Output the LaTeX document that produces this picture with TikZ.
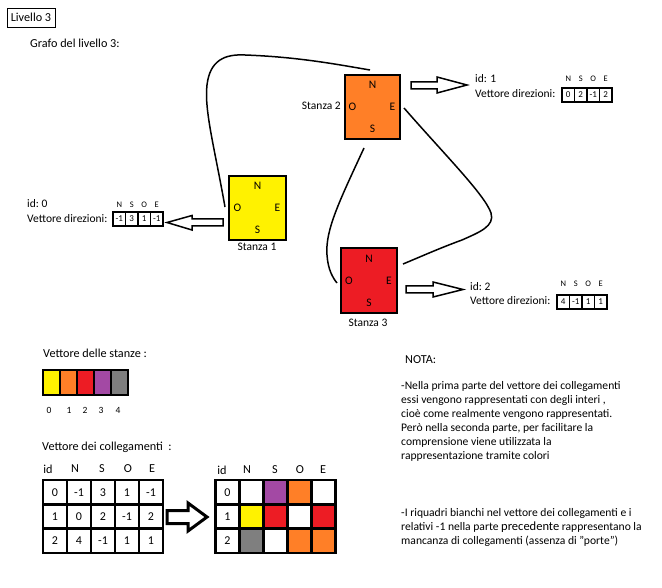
\documentclass[tikz,border=0pt]{standalone}
\usepackage{fontspec}
\setmainfont{Carlito}
\definecolor{cyel}{HTML}{FFF200}
\definecolor{cora}{HTML}{FF7F27}
\definecolor{cred}{HTML}{ED1C24}
\definecolor{cpur}{HTML}{A349A4}
\definecolor{cgry}{HTML}{7F7F7F}
\begin{document}
\begin{tikzpicture}[x=1pt,y=-1pt,
  txt/.style={inner sep=0, font=\fontsize{12.2}{14}\selectfont},
  ltxt/.style={txt, anchor=west},
  vtxt/.style={ltxt, font=\fontsize{11.5}{14}\selectfont},
  room/.style={draw, line width=2pt, minimum width=55, minimum height=64, inner sep=0},
  dirl/.style={inner sep=0, font=\fontsize{11.5}{14}\selectfont},
  dcell/.style={draw, line width=1.3pt, minimum width=12.5, minimum height=14, inner sep=0, font=\fontsize{9}{10}\selectfont},
  hlab/.style={inner sep=0, font=\fontsize{8.5}{9}\selectfont},
  barrow/.style={draw, fill=white, line width=1.5pt, line join=miter},
  tcell/.style={draw, line width=2.5pt, minimum width=24, minimum height=24.3, inner sep=0, font=\fontsize{12}{14}\selectfont},
  scell/.style={draw, line width=1.8pt, minimum width=17, minimum height=25, inner sep=0},
  link/.style={line width=1.5pt}
]
\useasboundingbox (0,0) rectangle (662,588);
\fill[white] (0,0) rectangle (662,588);

% title
\node[txt, draw, line width=0.8pt, minimum width=48, minimum height=19] (title) at (31,17.5) {Livello 3};
\node[ltxt] (grafo) at (30,43) {Grafo del livello 3:};

% rooms
\node[room, fill=cora] (s2) at (372.5,107) {};
\node[room, fill=cyel, minimum width=57] (s1) at (257.5,208) {};
\node[room, fill=cred, minimum width=56, minimum height=65] (s3) at (369,280.5) {};
\foreach \s in {s1,s2,s3} {
  \node[dirl] (\s N) at ([yshift=22pt]\s.center) {N};
  \node[dirl] (\s S) at ([yshift=-22pt]\s.center) {S};
  \node[dirl] (\s O) at ([xshift=-20pt]\s.center) {O};
  \node[dirl] (\s E) at ([xshift=20pt]\s.center) {E};
}
\node[vtxt, anchor=east] (l2) at (341,106) {Stanza 2};
\node[vtxt, anchor=center] (l1) at (257,247) {Stanza 1};
\node[vtxt, anchor=center] (l3) at (368,323) {Stanza 3};

% links
\draw[link] ([xshift=-3pt,yshift=1pt]s1.west) .. controls (215,150) and (204,110) .. (207,85)
   .. controls (210,60) and (225,54) .. (245,55) .. controls (300,57) and (340,65) .. ([xshift=-2.5pt,yshift=4pt]s2.north);
\draw[link] ([xshift=-8.5pt,yshift=-8pt]s2.south) .. controls (340,200) and (325,230) .. (327,255)
   .. controls (328,270) and (333,278) .. ([xshift=-3pt,yshift=-2.5pt]s3.west);
\draw[link] ([xshift=3pt,yshift=-1pt]s2.east) .. controls (445,155) and (485,195) .. (491,213)
   .. controls (495,226) and (480,232) .. (462,240) .. controls (440,248) and (420,257) .. ([xshift=5pt,yshift=-17pt]s3.north east);

% block arrows
\draw[barrow] (411,82) -- (437,82) -- (437,77) -- (467,85) -- (437,93) -- (437,89) -- (411,89) -- cycle;
\draw[barrow] (223,219) -- (192,219) -- (192,215.5) -- (167,222.5) -- (192,230) -- (192,226) -- (223,226) -- cycle;
\draw[barrow] (406,286) -- (433,286) -- (433,282) -- (463,289.5) -- (433,297) -- (433,293) -- (406,293) -- cycle;

% id 0
\node[vtxt] (id0) at (27,204) {id:\ 0};
\node[vtxt] (vd0) at (27,219) {Vettore direzioni:};
\foreach \v [count=\i from 0] in {-1,3,1,-1}
  \node[dcell] (a\i) at ({119.25+12.5*\i},219) {\v};
\foreach \l [count=\i from 0] in {N,S,O,E}
  \node[hlab] (ah\i) at ({119.25+12.5*\i},205) {\l};

% id 1
\node[vtxt] (id1) at (475,79) {id: 1};
\node[vtxt] (vd1) at (475,94) {Vettore direzioni:};
\foreach \v [count=\i from 0] in {0,2,-1,2}
  \node[dcell] (b\i) at ({568.25+12.5*\i},95) {\v};
\foreach \l [count=\i from 0] in {N,S,O,E}
  \node[hlab] (bh\i) at ({568.25+12.5*\i},79) {\l};

% id 2
\node[vtxt] (id2) at (470,287) {id:\ 2};
\node[vtxt] (vd2) at (470,301) {Vettore direzioni:};
\foreach \v [count=\i from 0] in {4,-1,1,1}
  \node[dcell] (c\i) at ({563.25+12.5*\i},302) {\v};
\foreach \l [count=\i from 0] in {N,S,O,E}
  \node[hlab] (ch\i) at ({563.25+12.5*\i},284) {\l};

% vettore delle stanze
\node[ltxt] (vs) at (43,353) {Vettore delle stanze :};
\foreach \c [count=\i from 0] in {cyel,cora,cred,cpur,cgry}
  \node[scell, fill=\c] (st\i) at ({51.5+17*\i},382.5) {};
\foreach \x [count=\i from 0] in {49,69,85,101,118}
  \node[hlab, font=\fontsize{9.5}{11}\selectfont] (sn\i) at (\x,410) {\i};

% vettore dei collegamenti
\node[ltxt] (vc) at (42,447) {Vettore dei collegamenti\ \ :};
\foreach \h/\x in {id/48,N/75,S/102,O/128,E/152}
  \node[txt] (lh\h) at (\x,469) {\h};
\foreach \row [count=\r from 0] in {{0,-1,3,1,-1},{1,0,2,-1,2},{2,4,-1,1,1}} {
  \foreach \v [count=\c from 0] in \row {
    \node[tcell] (L\r\c) at ({55+24*\c},{492.2+24.33*\r}) {\v};
  }
}
\foreach \h/\x in {id/222,N/247,S/275,O/300,E/323}
  \node[txt] (rh\h) at (\x,470) {\h};
\foreach \r/\a/\b/\c/\d in {0/white/cpur/cora/white,1/cyel/cred/white/cred,2/cgry/white/cora/cora} {
  \node[tcell] (R\r0) at (227.5,{492.2+24.33*\r}) {\r};
  \node[tcell, fill=\a] (R\r1) at (251.5,{492.2+24.33*\r}) {};
  \node[tcell, fill=\b] (R\r2) at (275.5,{492.2+24.33*\r}) {};
  \node[tcell, fill=\c] (R\r3) at (299.5,{492.2+24.33*\r}) {};
  \node[tcell, fill=\d] (R\r4) at (323.5,{492.2+24.33*\r}) {};
}
\draw[barrow, line width=3pt] (167,510.5) -- (188,510.5) -- (188,503) -- (207,517) -- (188,531) -- (188,523.5) -- (167,523.5) -- cycle;

% nota
\node[ltxt] (nota) at (405,360) {NOTA:};
\node[ltxt, align=left, anchor=north west, font=\fontsize{11.6}{14.1}\selectfont] (n1) at (401,381)
 {-Nella prima parte del vettore dei collegamenti\\
  essi vengono rappresentati con degli interi ,\\
  cioè come realmente vengono rappresentati.\\
  Però nella seconda parte, per facilitare la\\
  comprensione viene utilizzata la\\
  rappresentazione tramite colori};
\node[ltxt, align=left, anchor=north west, font=\fontsize{11.6}{14.1}\selectfont] (n2) at (401,508)
 {-I riquadri bianchi nel vettore dei collegamenti e i\\
  relativi -1 nella parte {\fontsize{12.5}{14}\selectfont precedente} rappresentano la\\
  mancanza di collegamenti (assenza di "porte")};
\end{tikzpicture}
\end{document}
